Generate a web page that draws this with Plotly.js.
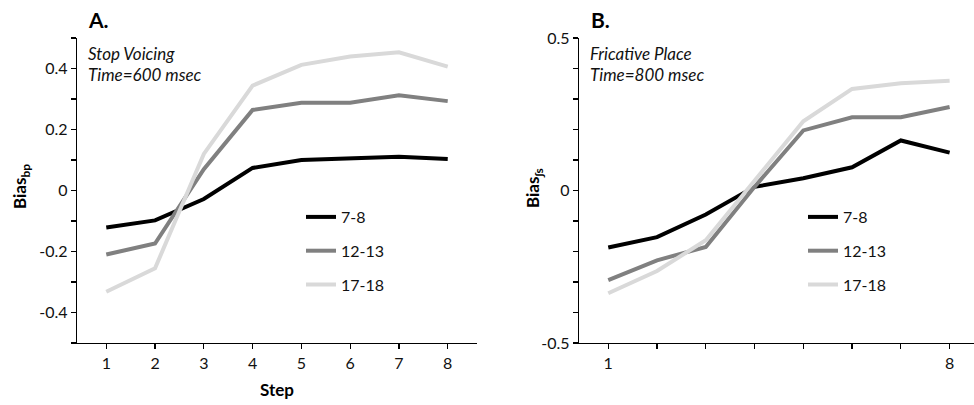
<!DOCTYPE html>
<html>
<head>
<meta charset="utf-8">
<script src="https://cdn.plot.ly/plotly-3.0.1.min.js"></script>
<style>html,body{margin:0;padding:0;background:#fff;}#chart{width:974px;height:405px;}</style>
</head>
<body>
<div id="chart"></div>
<script>
const steps = [1, 2, 3, 4, 5, 6, 7, 8];
const groups = ['7-8', '12-13', '17-18'];
const colors = ['#000000', '#808080', '#d9d9d9'];

// Panel A: Stop Voicing, Time=600 msec
const stopVoicing = [
  [-0.121, -0.098, -0.028, 0.074, 0.100, 0.106, 0.111, 0.103],
  [-0.210, -0.174, 0.070, 0.264, 0.288, 0.288, 0.312, 0.293],
  [-0.332, -0.255, 0.120, 0.344, 0.412, 0.439, 0.453, 0.406]
];
// Panel B: Fricative Place, Time=800 msec
const fricativePlace = [
  [-0.187, -0.153, -0.079, 0.012, 0.040, 0.076, 0.164, 0.124],
  [-0.294, -0.229, -0.185, 0.012, 0.197, 0.240, 0.240, 0.274],
  [-0.337, -0.264, -0.163, 0.032, 0.227, 0.333, 0.352, 0.360]
];

const yTickValsA = [-0.4, -0.2, 0, 0.2, 0.4];
const yTickTextA = ['-0.4', '-0.2', '0', '0.2', '0.4'];
const yTickValsB = [-0.5, 0, 0.5];
const yTickTextB = ['-0.5', '0', '0.5'];
const xTickTextA = ['1', '2', '3', '4', '5', '6', '7', '8'];
const xTickValsB = [1, 8];
const xTickTextB = ['1', '8'];

const FONT = 'Lato, "Open Sans", sans-serif';
const traces = [];
groups.forEach((g, i) => {
  traces.push({
    x: steps, y: stopVoicing[i], name: g, type: 'scatter', mode: 'lines',
    line: {color: colors[i], width: 4}, xaxis: 'x', yaxis: 'y',
    legend: 'legend', legendgroup: 'a' + i
  });
});
groups.forEach((g, i) => {
  traces.push({
    x: steps, y: fricativePlace[i], name: g, type: 'scatter', mode: 'lines',
    line: {color: colors[i], width: 4}, xaxis: 'x2', yaxis: 'y2',
    legend: 'legend2', legendgroup: 'b' + i
  });
});

const W = 974, H = 405;
const px = v => v / W;
const py = v => 1 - v / H;

const axisCommon = {
  showgrid: false, zeroline: false, showline: true, linecolor: '#000', linewidth: 1.3,
  ticks: 'outside', ticklen: 5, tickcolor: '#000', tickwidth: 1.2,
  tickfont: {family: FONT, size: 16, color: '#111'}, fixedrange: true
};
const minorTicks = d => ({dtick: d, tick0: 0, ticks: 'outside', ticklen: 5, tickcolor: '#000', tickwidth: 1.2, showgrid: false});

const layout = {
  width: W, height: H,
  margin: {l: 0, r: 0, t: 0, b: 0},
  paper_bgcolor: '#fff', plot_bgcolor: '#fff',
  font: {family: FONT, color: '#111'},
  xaxis: Object.assign({}, axisCommon, {
    domain: [px(77), px(477)], range: [0.4, 8.6],
    tickmode: 'array', tickvals: steps, ticktext: xTickTextA, anchor: 'y'
  }),
  yaxis: Object.assign({}, axisCommon, {
    domain: [py(343), py(38)], range: [-0.5, 0.5],
    tickmode: 'array', tickvals: yTickValsA, ticktext: yTickTextA, anchor: 'x',
    minor: minorTicks(0.1)
  }),
  xaxis2: Object.assign({}, axisCommon, {
    domain: [px(579), 1], range: [0.4, 8.5],
    tickmode: 'array', tickvals: xTickValsB, ticktext: xTickTextB, anchor: 'y2',
    minor: Object.assign(minorTicks(1), {tick0: 1})
  }),
  yaxis2: Object.assign({}, axisCommon, {
    domain: [py(343), py(38)], range: [-0.5, 0.5],
    tickmode: 'array', tickvals: yTickValsB, ticktext: yTickTextB, anchor: 'x2',
    minor: minorTicks(0.1)
  }),
  showlegend: true,
  legend: {
    x: px(301), y: py(200), xanchor: 'left', yanchor: 'top',
    bgcolor: 'rgba(0,0,0,0)', font: {family: FONT, size: 16, color: '#111'},
    tracegroupgap: 10, itemclick: false
  },
  legend2: {
    x: px(803), y: py(200), xanchor: 'left', yanchor: 'top',
    bgcolor: 'rgba(0,0,0,0)', font: {family: FONT, size: 16, color: '#111'},
    tracegroupgap: 10, itemclick: false
  },
  annotations: [
    {text: '<b>A.</b>', xref: 'paper', yref: 'paper', x: px(86), y: py(19), xanchor: 'left', yanchor: 'middle', showarrow: false, font: {family: FONT, size: 21, color: '#000'}},
    {text: '<b>B.</b>', xref: 'paper', yref: 'paper', x: px(589), y: py(19), xanchor: 'left', yanchor: 'middle', showarrow: false, font: {family: FONT, size: 21, color: '#000'}},
    {text: '<i>Stop Voicing</i>', xref: 'paper', yref: 'paper', x: px(86), y: py(53), xanchor: 'left', yanchor: 'middle', showarrow: false, font: {family: FONT, size: 17, color: '#111'}},
    {text: '<i>Time=600 msec</i>', xref: 'paper', yref: 'paper', x: px(86), y: py(75), xanchor: 'left', yanchor: 'middle', showarrow: false, font: {family: FONT, size: 17, color: '#111'}},
    {text: '<i>Fricative Place</i>', xref: 'paper', yref: 'paper', x: px(588), y: py(53), xanchor: 'left', yanchor: 'middle', showarrow: false, font: {family: FONT, size: 17, color: '#111'}},
    {text: '<i>Time=800 msec</i>', xref: 'paper', yref: 'paper', x: px(588), y: py(75), xanchor: 'left', yanchor: 'middle', showarrow: false, font: {family: FONT, size: 17, color: '#111'}},
    {text: '<b>Step</b>', xref: 'paper', yref: 'paper', x: px(277), y: py(389), xanchor: 'center', yanchor: 'middle', showarrow: false, font: {family: FONT, size: 17, color: '#000'}},
    {text: '<b>Bias<sub>bp</sub></b>', xref: 'paper', yref: 'paper', x: px(21), y: py(187), xanchor: 'center', yanchor: 'middle', textangle: -90, showarrow: false, font: {family: FONT, size: 17, color: '#000'}},
    {text: '<b>Bias<sub>ʃs</sub></b>', xref: 'paper', yref: 'paper', x: px(534), y: py(188), xanchor: 'center', yanchor: 'middle', textangle: -90, showarrow: false, font: {family: FONT, size: 17, color: '#000'}}
  ]
};

Plotly.newPlot('chart', traces, layout, {staticPlot: true, displayModeBar: false});
</script>
</body>
</html>
